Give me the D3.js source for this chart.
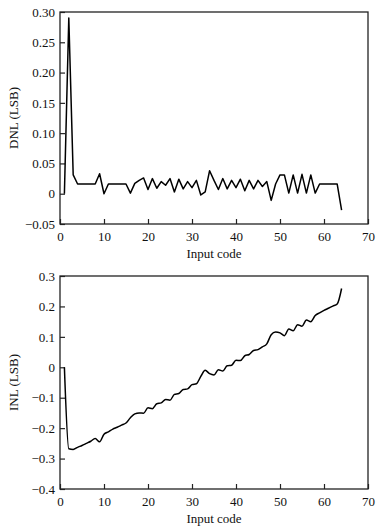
<!DOCTYPE html>
<html><head><meta charset="utf-8">
<script src="https://cdn.jsdelivr.net/npm/d3@7"></script>
<style>body{margin:0;background:#fff}svg{display:block}</style>
</head><body>
<svg id="c" width="384" height="532"></svg>
<script>
const codes = d3.range(1, 65);
const dnl = [0, 0.29, 0.031, 0.016, 0.016, 0.016, 0.016, 0.016, 0.033, 0, 0.016, 0.016, 0.016, 0.016, 0.016, 0.001,
  0.017, 0.022, 0.026, 0.007, 0.025, 0.009, 0.02, 0.014, 0.025, 0.003, 0.024, 0.008, 0.02, 0.01, 0.022, -0.002,
  0.003, 0.038, 0.022, 0.007, 0.025, 0.008, 0.022, 0.01, 0.024, 0.005, 0.022, 0.008, 0.022, 0.012, 0.02, -0.011,
  0.016, 0.031, 0.031, 0.001, 0.031, 0.001, 0.032, 0.001, 0.031, 0.001, 0.016, 0.016, 0.016, 0.016, 0.016, -0.027];
const inl = [0, -0.268, -0.27, -0.263, -0.257, -0.25, -0.243, -0.234, -0.245, -0.22, -0.212, -0.203, -0.197, -0.19, -0.183, -0.166,
  -0.153, -0.15, -0.151, -0.133, -0.136, -0.12, -0.117, -0.106, -0.108, -0.089, -0.086, -0.073, -0.071, -0.057, -0.054, -0.03,
  -0.01, -0.021, -0.025, -0.008, -0.012, 0.005, 0.007, 0.023, 0.022, 0.038, 0.042, 0.055, 0.058, 0.067, 0.077, 0.107,
  0.116, 0.113, 0.104, 0.126, 0.12, 0.14, 0.135, 0.155, 0.15, 0.17, 0.179, 0.187, 0.194, 0.201, 0.208, 0.259];
const xTicks = [0, 10, 20, 30, 40, 50, 60, 70];
const dnlTicks = [-0.05, 0, 0.05, 0.10, 0.15, 0.20, 0.25, 0.30];
const inlTicks = [-0.4, -0.3, -0.2, -0.1, 0, 0.1, 0.2, 0.3];

const svg = d3.select("#c");
const font = "'Liberation Serif', 'Times New Roman', serif";

function panel(top, bottom, yDomain, yTicks, yFmt, data, yLabel, curve) {
  const x = d3.scaleLinear().domain([0, 70]).range([60, 368]);
  const y = d3.scaleLinear().domain(yDomain).range([bottom, top]);
  const g = svg.append("g");
  g.append("g").attr("transform", `translate(0,${bottom})`)
    .call(d3.axisBottom(x).tickValues(xTicks).tickSize(-5).tickPadding(8).tickFormat(d3.format("d")))
    .call(a => a.select(".domain").remove());
  g.append("g").attr("transform", `translate(60,0)`)
    .call(d3.axisLeft(y).tickValues(yTicks).tickSize(-5).tickPadding(5).tickFormat(yFmt))
    .call(a => a.select(".domain").remove());
  g.selectAll(".tick text").attr("font-family", font).attr("font-size", 13).attr("fill", "#111");
  g.selectAll(".tick line").attr("stroke", "#222").attr("stroke-width", 1.2);
  g.append("rect").attr("x", 60).attr("y", top).attr("width", 308).attr("height", bottom - top)
    .attr("fill", "none").attr("stroke", "#222").attr("stroke-width", 1.3);
  g.append("path").datum(codes.map((c, i) => [c, data[i]]))
    .attr("fill", "none").attr("stroke", "#000").attr("stroke-width", 1.5).attr("stroke-linejoin", "round")
    .attr("d", d3.line().x(d => x(d[0])).y(d => y(d[1])).curve(curve));
  g.append("text").attr("x", 214).attr("y", bottom + 34).attr("text-anchor", "middle")
    .attr("font-family", font).attr("font-size", 13).attr("fill", "#111").text("Input code");
  g.append("text").attr("transform", `translate(18,${(top + bottom) / 2}) rotate(-90)`)
    .attr("text-anchor", "middle").attr("font-family", font).attr("font-size", 13).attr("fill", "#111").text(yLabel);
}

const fmtD = d => d === 0 ? "0" : d3.format(".2f")(d).replace("-", "\u2212");
const fmtI = d => d === 0 ? "0" : d3.format(".1f")(d).replace("-", "\u2212");
panel(12, 224, [-0.05, 0.30], dnlTicks, fmtD, dnl, "DNL (LSB)", d3.curveLinear);
panel(276, 489, [-0.4, 0.3], inlTicks, fmtI, inl, "INL (LSB)", d3.curveMonotoneX);
</script>
</body></html>
